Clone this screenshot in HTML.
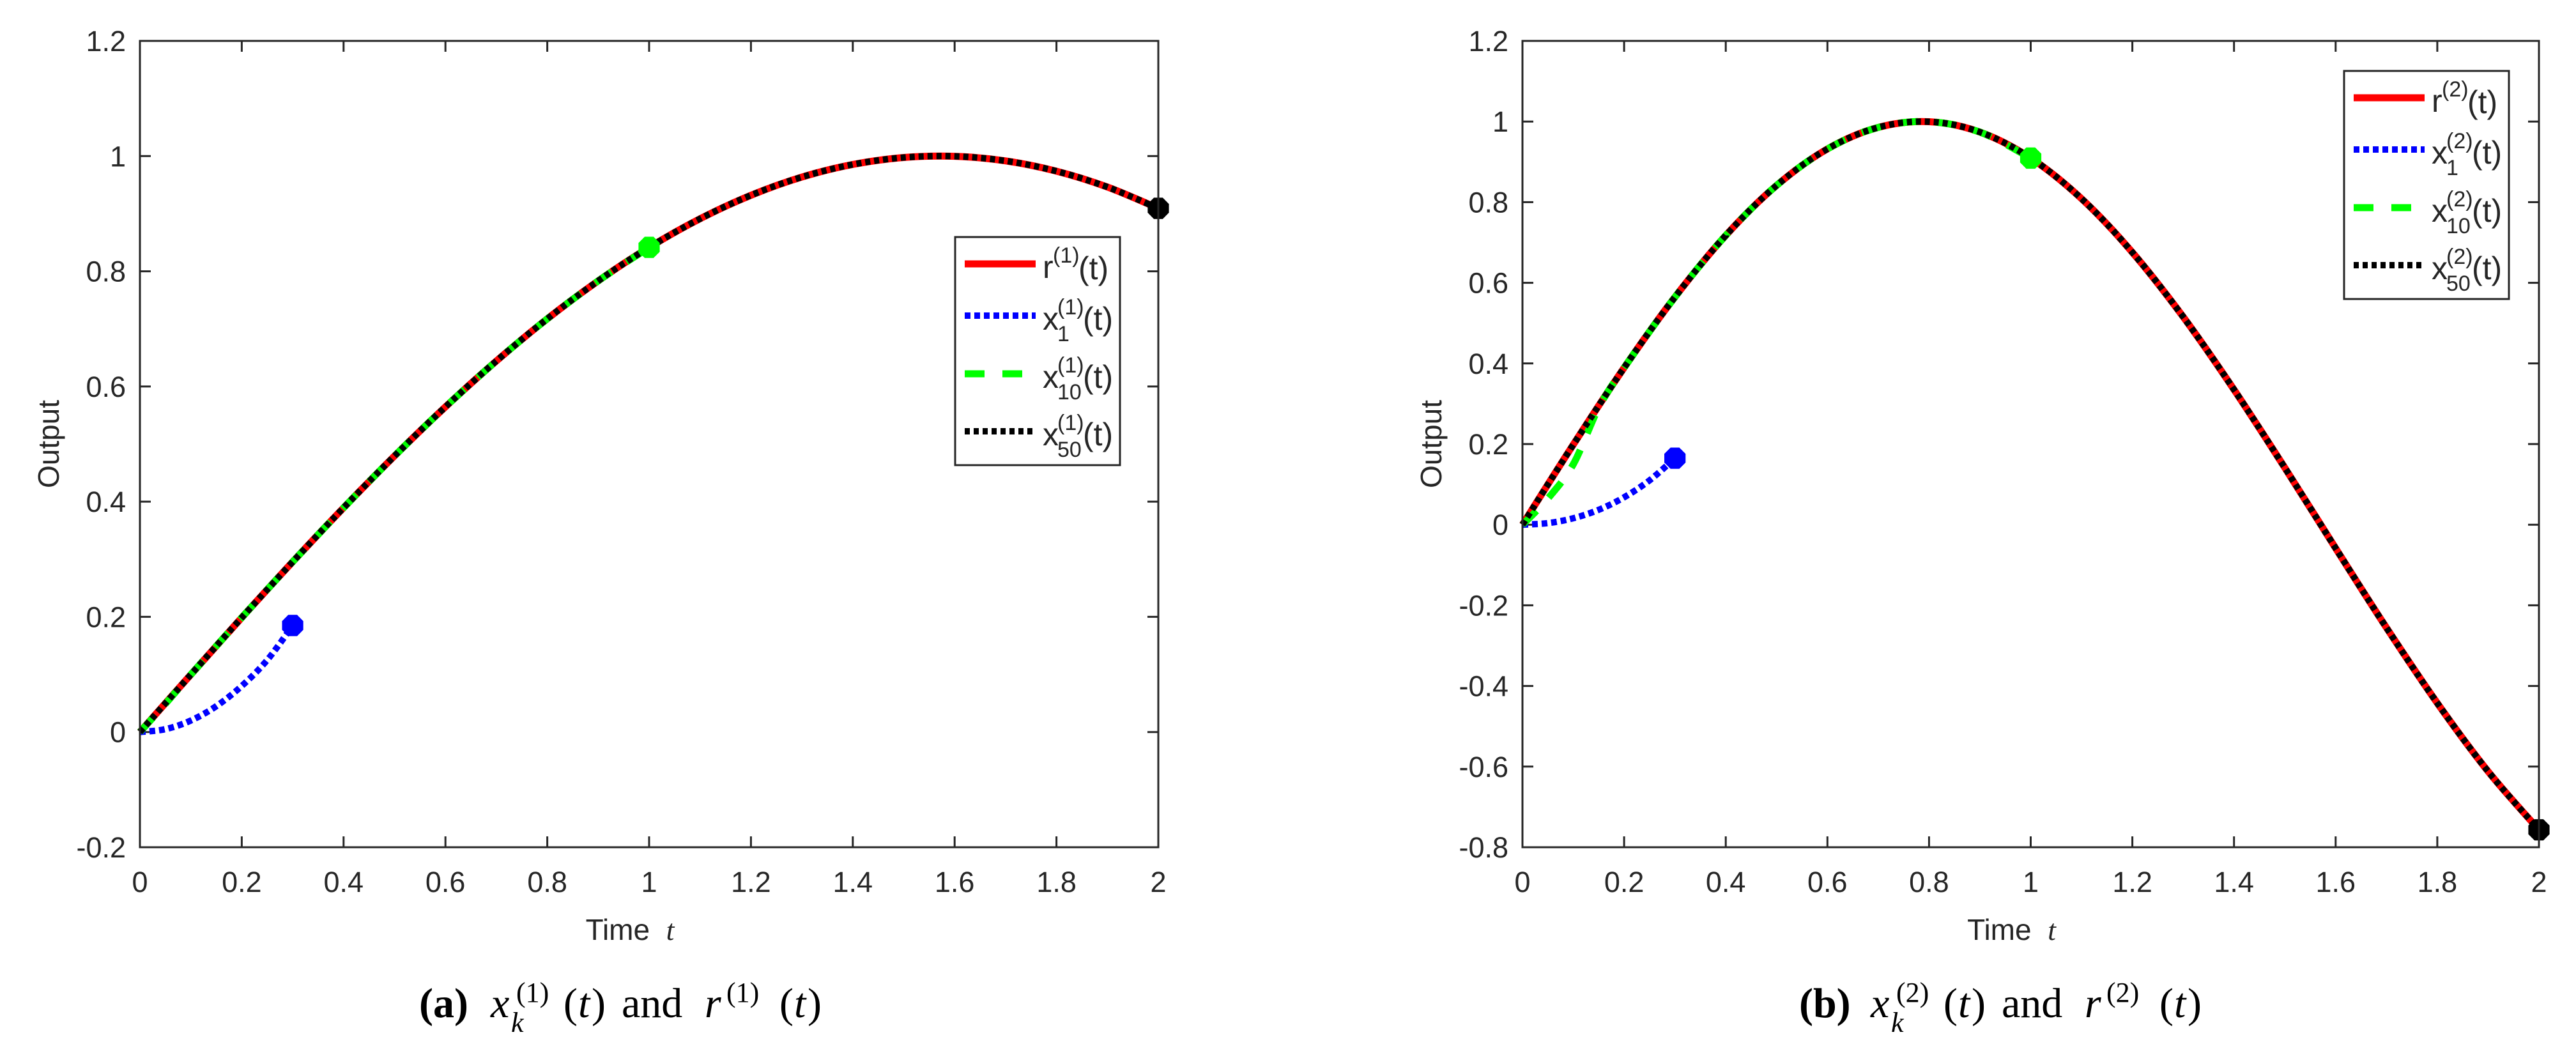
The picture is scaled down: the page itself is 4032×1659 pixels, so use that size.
<!DOCTYPE html>
<html><head><meta charset="utf-8"><style>
html,body{margin:0;padding:0;background:#fff;}
svg{display:block;}
text{font-family:"Liberation Sans",sans-serif;fill:#262626;}
.cap{font-family:"Liberation Serif",serif;fill:#000;}
</style></head><body>
<svg id="fig" width="4032" height="1659" viewBox="0 0 4032 1659" xmlns="http://www.w3.org/2000/svg">
<g id="pa"></g>
<g id="pb"></g>
<g id="capa"></g>
<g id="capb"></g>
</svg>
<script>
const NS="http://www.w3.org/2000/svg";
// x tick labels
const xTicks=[0,0.2,0.4,0.6,0.8,1,1.2,1.4,1.6,1.8,2];
const yTicksA=[-0.2,0,0.2,0.4,0.6,0.8,1,1.2];
const yTicksB=[-0.8,-0.6,-0.4,-0.2,0,0.2,0.4,0.6,0.8,1,1.2];
// time samples (step 0.1) for reference / converged iterates
const tRef=[0,0.1,0.2,0.3,0.4,0.5,0.6,0.7,0.8,0.9,1,1.1,1.2,1.3,1.4,1.5,1.6,1.7,1.8,1.9,2];
// panel a: r^(1)
const rA=[0,0.0998,0.1987,0.2955,0.3894,0.4794,0.5646,0.6442,0.7174,0.7833,0.8415,0.8912,0.932,0.9636,0.9854,0.9975,0.9996,0.9917,0.9738,0.9463,0.9093];
// panel b: r^(2)
const rB=[0,0.1987,0.3894,0.5646,0.7174,0.8415,0.932,0.9854,0.9996,0.9738,0.9093,0.8085,0.6755,0.5155,0.335,0.1411,-0.0584,-0.2555,-0.4425,-0.6119,-0.7568];
// x_1 iterate (t 0..0.3)
const tX1=[0,0.05,0.1,0.15,0.2,0.25,0.3];
const x1A=[0,0.005,0.02,0.045,0.08,0.125,0.185];
const x1B=[0,0.004,0.016,0.037,0.068,0.11,0.165];
// x_10 iterate (t 0..1)
const tX10=[0,0.05,0.1,0.15,0.2,0.3,0.4,0.5,0.6,0.7,0.8,0.9,1];
const x10A=[0,0.049,0.0998,0.1494,0.1987,0.2955,0.3894,0.4794,0.5646,0.6442,0.7174,0.7833,0.8415];
const x10B=[0,0.065,0.15,0.29,0.3894,0.5646,0.7174,0.8415,0.932,0.9854,0.9996,0.9738,0.9093];

function mk(parent,tag,attrs){const e=document.createElementNS(NS,tag);for(const k in attrs)e.setAttribute(k,attrs[k]);parent.appendChild(e);return e;}
function txt(parent,x,y,s,size,extra){const a={x:x,y:y,"font-size":size};for(const k in (extra||{}))a[k]=extra[k];const e=mk(parent,"text",a);e.textContent=s;return e;}
function pathD(ts,vs,sx,sy){
  const p=ts.map((t,i)=>[sx(t),sy(vs[i])]);
  let d="M"+p[0][0].toFixed(1)+","+p[0][1].toFixed(1);
  for(let i=0;i<p.length-1;i++){
    const p0=p[Math.max(0,i-1)],p1=p[i],p2=p[i+1],p3=p[Math.min(p.length-1,i+2)];
    const c1=[p1[0]+(p2[0]-p0[0])/6,p1[1]+(p2[1]-p0[1])/6];
    const c2=[p2[0]-(p3[0]-p1[0])/6,p2[1]-(p3[1]-p1[1])/6];
    d+=" C"+c1[0].toFixed(1)+","+c1[1].toFixed(1)+" "+c2[0].toFixed(1)+","+c2[1].toFixed(1)+" "+p2[0].toFixed(1)+","+p2[1].toFixed(1);
  }
  return d;
}
function octagon(g,cx,cy,r,fill,name){
  let pts=[];for(let i=0;i<8;i++){const a=Math.PI/8+i*Math.PI/4;pts.push((cx+r*Math.cos(a)).toFixed(1)+","+(cy+r*Math.sin(a)).toFixed(1));}
  const e=mk(g,"polygon",{points:pts.join(" "),fill:fill});
  
  
}
function caption(g,ox,lab,k){
  const f={"class":"cap"};
  const it={"class":"cap","font-style":"italic"};
  const M=66,S=44,BL=1592;
  txt(g,ox+656,BL,"("+lab+")",M,{"class":"cap","font-weight":"bold"});
  txt(g,ox+768,BL,"x",M,it);
  txt(g,ox+808,1568,"("+k+")",S,f);
  txt(g,ox+800,1615,"k",S,it);
  txt(g,ox+882,BL,"(",M,f);
  txt(g,ox+905,BL,"t",M,it);
  txt(g,ox+926,BL,")",M,f);
  txt(g,ox+973,BL,"and",M,f);
  txt(g,ox+1103,BL,"r",M,it);
  txt(g,ox+1137,1568,"("+k+")",S,f);
  txt(g,ox+1220,BL,"(",M,f);
  txt(g,ox+1243,BL,"t",M,it);
  txt(g,ox+1264,BL,")",M,f);
}
function panel(g,o){
  const L=o.L,R=o.R,T=64,B=1326;
  const sx=t=>L+(t-0)/2*(R-L);
  const sy=v=>B-(v-o.ymin)/(o.ymax-o.ymin)*(B-T);
  const ax=mk(g,"g",{});
  
  
  xTicks.forEach(t=>{
    const x=sx(t);
    const tk=mk(ax,"path",{d:`M${x},${B}v-17M${x},${T}v17`,stroke:"#262626","stroke-width":3});
    
    
    const lb=mk(ax,"text",{x:x,y:1396,"font-size":45,"text-anchor":"middle"});lb.textContent=String(t);
    
    
  });
  o.yt.forEach(v=>{
    const y=sy(v);
    const tk=mk(ax,"path",{d:`M${L},${y}h17M${R},${y}h-17`,stroke:"#262626","stroke-width":3});
    
    
    const lb=mk(ax,"text",{x:L-22,y:y+16,"font-size":45,"text-anchor":"end"});lb.textContent=String(v);
    
    
  });
  const yl=mk(ax,"text",{x:0,y:0,"font-size":46,"text-anchor":"middle",transform:`translate(${L-127},${(T+B)/2}) rotate(-90)`});yl.textContent="Output";
  
  
  const xl=mk(ax,"text",{x:(L+R)/2-30,y:1471,"font-size":46,"text-anchor":"middle"});xl.innerHTML='Time&#160;&#160;<tspan font-style="italic" font-family="Liberation Serif">t</tspan>';
  
  
  // series
  const sr=mk(g,"path",{d:pathD(tRef,o.r,sx,sy),fill:"none",stroke:"#ff0000","stroke-width":11});
  
  
  const s1=mk(g,"path",{d:pathD(tX1,o.x1,sx,sy),fill:"none",stroke:"#0000ff","stroke-width":10,"stroke-dasharray":"9 6"});
  
  
  const s10=mk(g,"path",{d:pathD(tX10,o.x10,sx,sy),fill:"none",stroke:"#00ff00","stroke-width":11,"stroke-dasharray":"31 28"});
  
  
  const s50=mk(g,"path",{d:pathD(tRef,o.r,sx,sy),fill:"none",stroke:"#000","stroke-width":10,"stroke-dasharray":"8 6"});
  
  
  octagon(g,sx(tX1[tX1.length-1]),sy(o.x1[o.x1.length-1]),18,"#0000ff","marker-x1-end");
  octagon(g,sx(tX10[tX10.length-1]),sy(o.x10[o.x10.length-1]),18,"#00ff00","marker-x10-end");
  octagon(g,sx(tRef[tRef.length-1]),sy(o.r[o.r.length-1]),18,"#000","marker-x50-end");
  const box=mk(g,"rect",{x:L,y:T,width:R-L,height:B-T,fill:"none",stroke:"#262626","stroke-width":3});
  
  
  // legend
  const lg=mk(g,"g",{});
  
  
  const lx=o.lx,ly=o.ly;
  mk(lg,"rect",{x:lx,y:ly,width:258,height:357,fill:"#fff",stroke:"#262626","stroke-width":3});
  const ents=[["#ff0000",11,"none","r","",42],["#0000ff",10,"9 6","x","1",123],["#00ff00",11,"31 28","x","10",214],["#000",10,"8 6","x","50",304]];
  ents.forEach(e=>{
    const eg=mk(lg,"g",{});
    
    
    const y=ly+e[5];
    mk(eg,"line",{x1:lx+15,x2:lx+126,y1:y,y2:y,stroke:e[0],"stroke-width":e[1],"stroke-dasharray":e[2]});
    const main={fill:"#000"};
    txt(eg,lx+137,y+22,e[3],50,main);
    if(e[4]){
      txt(eg,lx+160,y-2,"("+o.k+")",34,main);
      txt(eg,lx+160,y+40,e[4],34,main);
      txt(eg,lx+200,y+22,"(t)",50,main);
    } else {
      txt(eg,lx+153,y-2,"("+o.k+")",34,main);
      txt(eg,lx+193,y+24,"(t)",50,main);
    }
  });
}
panel(document.getElementById("pa"),{L:219,R:1813,ymin:-0.2,ymax:1.2,yt:yTicksA,r:rA,x1:x1A,x10:x10A,lx:1495,ly:371,k:1});
panel(document.getElementById("pb"),{L:2383,R:3974,ymin:-0.8,ymax:1.2,yt:yTicksB,r:rB,x1:x1B,x10:x10B,lx:3669,ly:111,k:2});
caption(document.getElementById("capa"),0,"a",1);
caption(document.getElementById("capb"),2160,"b",2);
</script>
</body></html>
